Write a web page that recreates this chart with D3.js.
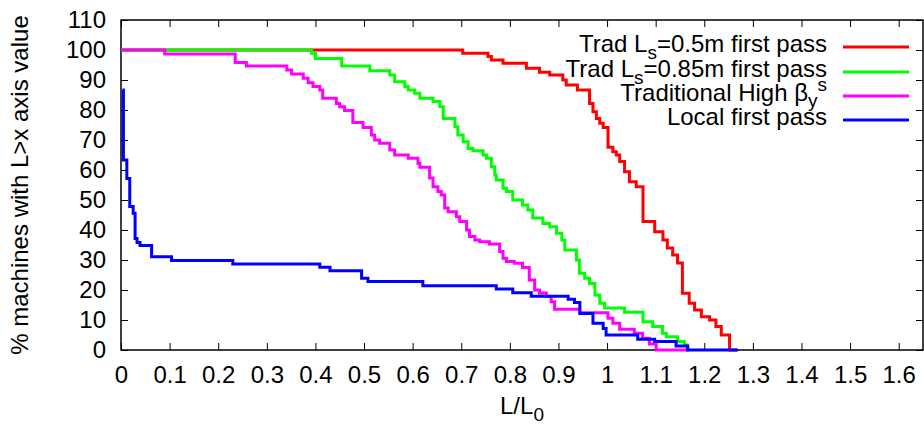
<!DOCTYPE html>
<html>
<head>
<meta charset="utf-8">
<script src="https://cdn.jsdelivr.net/npm/d3@7"></script>
<style>
  body { margin: 0; background: #fff; }
  svg { display: block; }
  text { font-family: "Liberation Sans", Arial, sans-serif; fill: #000; }
</style>
</head>
<body>
<svg id="chart" width="924" height="426"></svg>
<script>
// Tick values
const xTicks = [0, 0.1, 0.2, 0.3, 0.4, 0.5, 0.6, 0.7, 0.8, 0.9, 1, 1.1, 1.2, 1.3, 1.4, 1.5, 1.6];
const yTicks = [0, 10, 20, 30, 40, 50, 60, 70, 80, 90, 100, 110];

// Trad Ls=0.5m first pass (red)
const redX = [0, 0.703, 0.755, 0.762, 0.786, 0.834, 0.861, 0.882, 0.909, 0.916, 0.939, 0.964, 0.971, 0.978, 0.985, 0.992,
  1.002, 1.012, 1.019, 1.026, 1.036, 1.046, 1.06, 1.074, 1.098, 1.115, 1.124, 1.135, 1.145, 1.155, 1.169, 1.18, 1.194,
  1.211, 1.224, 1.235, 1.252, 1.268];
const redY = [100, 98.9, 97.8, 96.7, 95.6, 93.9, 92.6, 91.7, 90, 88.3, 86.7, 82.2, 79.4, 77.2, 75.6, 74.2,
  67.6, 66.1, 65, 62.8, 59.4, 56.1, 54.4, 42.8, 39.4, 36.7, 34, 31.7, 29, 18.9, 15.6, 13.3, 11.1,
  10, 7.8, 5, 0, 0];

// Trad Ls=0.85m first pass (green)
const greenX = [0, 0.392, 0.4, 0.454, 0.512, 0.553, 0.563, 0.584, 0.591, 0.604, 0.615, 0.642, 0.656, 0.663, 0.687, 0.693,
  0.704, 0.714, 0.724, 0.745, 0.752, 0.762, 0.769, 0.772, 0.786, 0.793, 0.806, 0.826, 0.837, 0.847, 0.868, 0.882,
  0.896, 0.907, 0.913, 0.937, 0.943, 0.954, 0.964, 0.975, 0.985, 0.995, 1.036, 1.074, 1.094, 1.114, 1.122, 1.145,
  1.159, 1.165, 1.17];
const greenY = [100, 98.9, 97.2, 94.7, 93.1, 91.7, 89.4, 87.8, 86.7, 85.6, 83.9, 82.8, 81.1, 77.2, 74.4, 71.7,
  69.4, 67.2, 66.4, 65, 63.9, 61.1, 58.3, 56.7, 53.9, 52.8, 50, 48.3, 46.7, 44, 42.2, 41.1,
  38.9, 36.7, 33.3, 30, 25.6, 23.9, 22.2, 18.3, 15.6, 14, 12.6, 9.4, 7.8, 5.6, 4.4, 2.8,
  1.7, 0, 0];

// Traditional High beta (magenta)
const magentaX = [0, 0.09, 0.235, 0.258, 0.341, 0.351, 0.375, 0.385, 0.395, 0.409, 0.415, 0.443, 0.45, 0.46, 0.477, 0.498,
  0.515, 0.522, 0.532, 0.553, 0.563, 0.591, 0.611, 0.615, 0.635, 0.642, 0.652, 0.659, 0.666, 0.673, 0.69, 0.697,
  0.711, 0.717, 0.728, 0.738, 0.758, 0.779, 0.786, 0.793, 0.809, 0.826, 0.84, 0.851, 0.861, 0.875, 0.885, 0.892,
  0.944, 1.002, 1.012, 1.026, 1.056, 1.073, 1.087, 1.101, 1.165];
const magentaY = [100, 98.7, 95.8, 94.7, 93.3, 92, 90.6, 89.1, 87.8, 86.7, 83.9, 82.2, 81.1, 79.8, 75.8, 74.2,
  71.7, 70, 68.9, 66.7, 65, 63.9, 62.2, 60.9, 57.3, 54.4, 52.8, 51.7, 47.3, 46.1, 44.4, 42.8,
  40, 37.8, 36.7, 36.1, 35.3, 32.8, 30.6, 29.5, 28.9, 27.5, 23.3, 20, 19, 17.8, 16.1, 13.6,
  12.4, 10.6, 8.9, 6.9, 5.6, 3.9, 2, 0, 0];

// Local first pass (blue)
const blueX = [0.003, 0.005, 0.012, 0.018, 0.025, 0.029, 0.033, 0.039, 0.063, 0.104, 0.23, 0.409, 0.43, 0.495, 0.508, 0.621,
  0.772, 0.806, 0.844, 0.92, 0.933, 0.944, 0.971, 0.992, 0.998, 1.063, 1.098, 1.142, 1.166, 1.269];
const blueY = [86.7, 63.3, 57.2, 47.8, 45.6, 37.2, 35.8, 34.8, 31.1, 29.8, 28.7, 27.6, 26.4, 23.9, 22.8, 21.4,
  20.3, 19.1, 17.9, 16.9, 15.8, 12.2, 8.9, 7.2, 5, 3.6, 2.8, 1.3, 0, 0];

const seriesColors = ["#ff0000", "#00ff00", "#ff00ff", "#0000ff"];

// Set up the margin for the chart
const margin = { top: 20, right: 1, bottom: 76, left: 121 };
const width = 924 - margin.left - margin.right;
const height = 426 - margin.top - margin.bottom;
const fontSize = 24;

const svg = d3.select("#chart");
const chart = svg.append("g")
  .attr("transform", `translate(${ margin.left }, ${ margin.top })`);

// Set up the scales
const xScale = d3.scaleLinear().domain([0, 1.65]).range([0, width]);
const yScale = d3.scaleLinear().domain([0, 110]).range([height, 0]);

// Draw the axis (ticks pointing inward, mirrored on top and right)
function styleAxis(g)
{
  g.select(".domain").remove();
  g.selectAll(".tick line").attr("stroke", "#000").attr("stroke-width", 1);
  g.selectAll("text").attr("font-size", fontSize + "px").attr("fill", "#000")
    .attr("font-family", "'Liberation Sans', Arial, sans-serif");
}

chart.append("g")
  .attr("transform", `translate(0, ${ height })`)
  .call(d3.axisBottom(xScale).tickValues(xTicks).tickFormat(d3.format("")).tickSize(-7).tickPadding(16))
  .call(styleAxis);

chart.append("g")
  .call(d3.axisTop(xScale).tickValues(xTicks).tickSize(-7).tickFormat(""))
  .call(styleAxis);

chart.append("g")
  .call(d3.axisLeft(yScale).tickValues(yTicks).tickSize(-7).tickPadding(15))
  .call(styleAxis);

chart.append("g")
  .attr("transform", `translate(${ width }, 0)`)
  .call(d3.axisRight(yScale).tickValues(yTicks).tickSize(-7).tickFormat(""))
  .call(styleAxis);

// Frame
chart.append("rect")
  .attr("width", width)
  .attr("height", height)
  .attr("fill", "none")
  .attr("stroke", "#000")
  .attr("stroke-width", 1.5);

// Draw the step curves
const line = d3.line()
  .x(d => xScale(d[0]))
  .y(d => yScale(d[1]))
  .curve(d3.curveStepAfter);

const curves = [[redX, redY], [greenX, greenY], [magentaX, magentaY], [blueX, blueY]];
curves.forEach((c, i) =>
{
  chart.append("path")
    .datum(c[0].map((x, j) => [x, c[1][j]]))
    .attr("fill", "none")
    .attr("stroke", seriesColors[i])
    .attr("stroke-width", 3)
    .attr("d", line);
});

// Legend
const legendRows = [
  [["Trad L", 0], ["s", 7], ["=0.5m first pass", -7]],
  [["Trad L", 0], ["s", 7], ["=0.85m first pass", -7]],
  [["Traditional High β", 0], ["y", 6], ["s", -16]],
  [["Local first pass", 0]]
];
const legendY = [47, 72, 96, 120];

legendRows.forEach((parts, i) =>
{
  const t = svg.append("text")
    .attr("x", 827)
    .attr("y", legendY[i] + 5)
    .attr("text-anchor", "end")
    .attr("font-size", fontSize + "px");
  parts.forEach((p, j) =>
  {
    t.append("tspan")
      .attr("dy", p[1])
      .attr("font-size", j === 0 || p[1] === -7 ? fontSize + "px" : "19px")
      .text(p[0]);
  });
  svg.append("line")
    .attr("x1", 843).attr("x2", 909)
    .attr("y1", legendY[i]).attr("y2", legendY[i])
    .attr("stroke", seriesColors[i])
    .attr("stroke-width", 3);
});

// Draw the x-axis label
const xLabel = svg.append("text")
  .attr("x", margin.left + width / 2)
  .attr("y", 414)
  .attr("text-anchor", "middle")
  .attr("font-size", fontSize + "px");
xLabel.append("tspan").text("L/L");
xLabel.append("tspan").attr("dy", 7).attr("font-size", "19px").text("0");

// Draw the y-axis label
svg.append("text")
  .attr("transform", "rotate(-90)")
  .attr("x", -(margin.top + height / 2))
  .attr("y", 28)
  .attr("text-anchor", "middle")
  .attr("font-size", fontSize + "px")
  .text("% machines with L>x axis value");
</script>
</body>
</html>
